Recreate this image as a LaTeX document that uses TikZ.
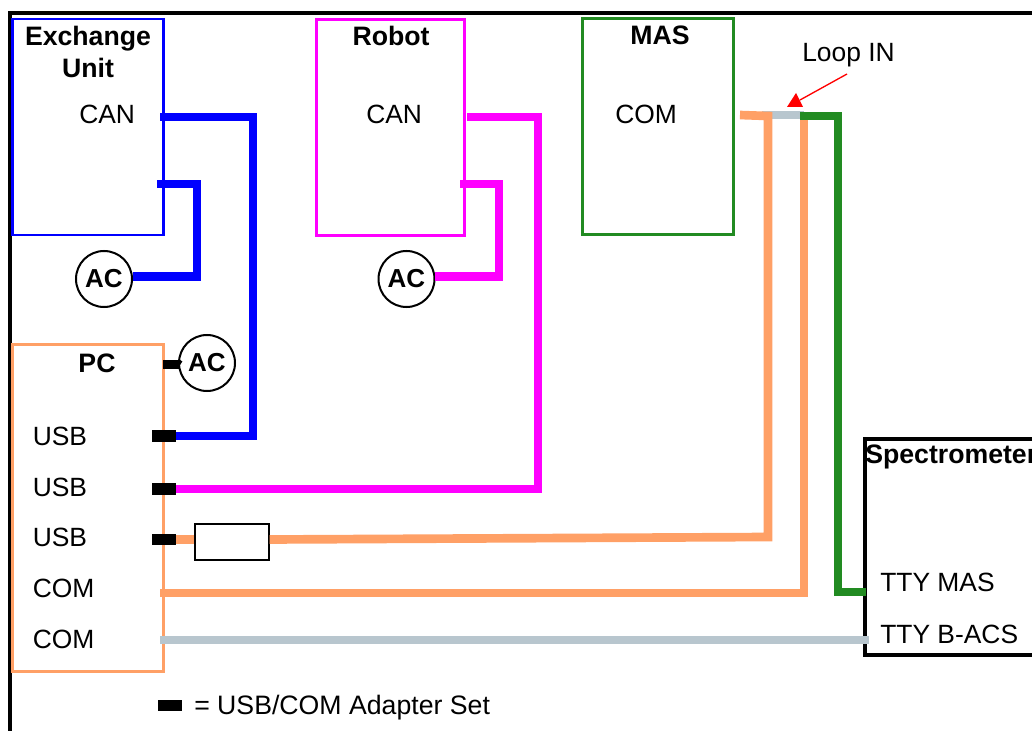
\documentclass[tikz,border=0pt]{standalone}
\usepackage{fontspec}
\setmainfont{Liberation Sans}
\usetikzlibrary{positioning}
\definecolor{pcorange}{HTML}{FFA066}
\definecolor{masgreen}{HTML}{228B22}
\definecolor{loopgrey}{HTML}{B8C6CE}
\definecolor{robotpink}{HTML}{FF00FF}
\tikzset
{
    unitbox/.style  = {draw, line width=2.2pt, minimum width=113.8pt, minimum height=162pt, inner sep=0pt},
    acnode/.style   = {circle, draw=black, line width=1.5pt, minimum size=42pt, inner sep=0pt, font=\bfseries\fontsize{19.5}{22}\selectfont},
    adapter/.style  = {fill=black, minimum width=18pt, minimum height=8.5pt, inner sep=0pt},
    title/.style    = {align=center, inner sep=0pt, font=\bfseries\fontsize{20}{24}\selectfont},
    port/.style     = {anchor=west, inner sep=0pt, font=\fontsize{19.8}{22}\selectfont},
    wire/.style     = {line width=6.5pt, line join=miter}
}
\begin{document}
\begin{tikzpicture}[x=0.75pt, y=-0.75pt]
    \useasboundingbox (0,0) rectangle (1032,731);
    \draw [line width=2.6pt] (10,731) -- (10,13) -- (1032,13);

    \node [unitbox, draw=blue] (exchange) at (88,127) {};
    \node [unitbox, draw=robotpink, minimum width=111pt] (robot) at (390.5,127.5) {};
    \node [unitbox, draw=masgreen] (mas) at (658,126.5) {};
    \node [unitbox, draw=pcorange, minimum height=245pt] (pc) at (88,508) {};
    \clip (0,0) rectangle (1032,731);
    \node [unitbox, draw=black, line width=2.6pt, minimum width=135pt] (spectrometer) at (955,547) {};

    \node [title] (exchangetitle) at (88,52) {Exchange\\Unit};
    \node [title] (robottitle) at (391,36) {Robot};
    \node [title] (mastitle) at (660,35.5) {MAS};
    \node [title] (pctitle) at (97,363) {PC};
    \node [title, anchor=west] (spectrometertitle) at (865,456.5) {Spectrometer};

    \node [port] (excan) at (79,114.5) {CAN};
    \node [port] (robotcan) at (366,114.5) {CAN};
    \node [port] (mascom) at (615,114.5) {COM};
    \node [port] (usbonelabel) at (32.5,436) {USB};
    \node [port] (usbtwolabel) at (32.5,487) {USB};
    \node [port] (usbthreelabel) at (32.5,537) {USB};
    \node [port] (comonelabel) at (32.5,588) {COM};
    \node [port] (comtwolabel) at (32.5,639) {COM};
    \node [port] (ttymas) at (880,582.5) {TTY MAS};
    \node [port] (ttybacs) at (880,634) {TTY B-ACS};
    \node [port] (loopin) at (802,55) {Loop IN};
    \node [port, font=\fontsize{20}{22}\selectfont] (legend) at (194,708) {= USB/COM Adapter Set};

    \node [acnode] (acone) at (104,279) {AC};
    \node [acnode] (actwo) at (406.5,279) {AC};
    \node [acnode] (acthree) at (207,363) {AC};

    \node [adapter] (usbone) at (164,436) {};
    \node [adapter] (usbtwo) at (164,489) {};
    \node [adapter] (usbthree) at (164,539.5) {};
    \node [adapter, minimum width=13pt, minimum height=7pt] (acadapter) at (171.5,364.5) {};
    \node [adapter] (legendadapter) at (170,705.5) {};
    \node [draw=black, line width=1.5pt, minimum width=55pt, minimum height=26.5pt, inner sep=0pt] (filterbox) at (232,542) {};

    \coordinate (excanport) at (160,117);
    \coordinate (exacport) at (157,184);
    \coordinate (robotcanport) at (467,117);
    \coordinate (robotacport) at (460,184);
    \coordinate (mascomport) at (740,115);
    \coordinate (looptop) at (804,120);
    \coordinate (loopleft) at (762,115);
    \coordinate (loopright) at (804,115);
    \coordinate (loopgreen) at (800,116);
    \coordinate (comoneport) at (160,593);
    \coordinate (comtwoport) at (160,640);
    \coordinate (ttymasport) at (866,592);
    \coordinate (ttybacsport) at (869,640);
    \coordinate (looparrow) at (800,100);
    \coordinate (loopstart) at (847,74);
    \coordinate (loopturn) at (768,116);

    \draw [wire, loopgrey] (loopleft) -- (loopright);
    \draw [wire, blue] (excanport) -- ++(93,0) |- (usbone.east);
    \draw [wire, blue] (exacport) -- ++(40,0) |- (acone.5);
    \draw [wire, robotpink] (robotcanport) -- ++(71,0) |- (usbtwo.east);
    \draw [wire, robotpink] (robotacport) -- ++(39,0) |- (actwo.5);
    \draw [wire, pcorange] (usbthree.east) -- (usbthree.east -| filterbox.west);
    \draw [wire, pcorange] (filterbox.east |- usbthree.east) -- (768,537) -- (loopturn) -- (mascomport);
    \draw [wire, pcorange] (comoneport) -| (looptop);
    \draw [wire, masgreen] (loopgreen) -- ++(38,0) |- (ttymasport);
    \draw [wire, loopgrey] (comtwoport) -- (ttybacsport);
    \draw [red, line width=1pt] (loopstart) -- (looparrow);
    \fill [red] (787,107) -- (796,93) -- (803,107) -- cycle;
    \draw [line width=5.5pt] (acadapter.east) -- (acthree.west);
\end{tikzpicture}
\end{document}
